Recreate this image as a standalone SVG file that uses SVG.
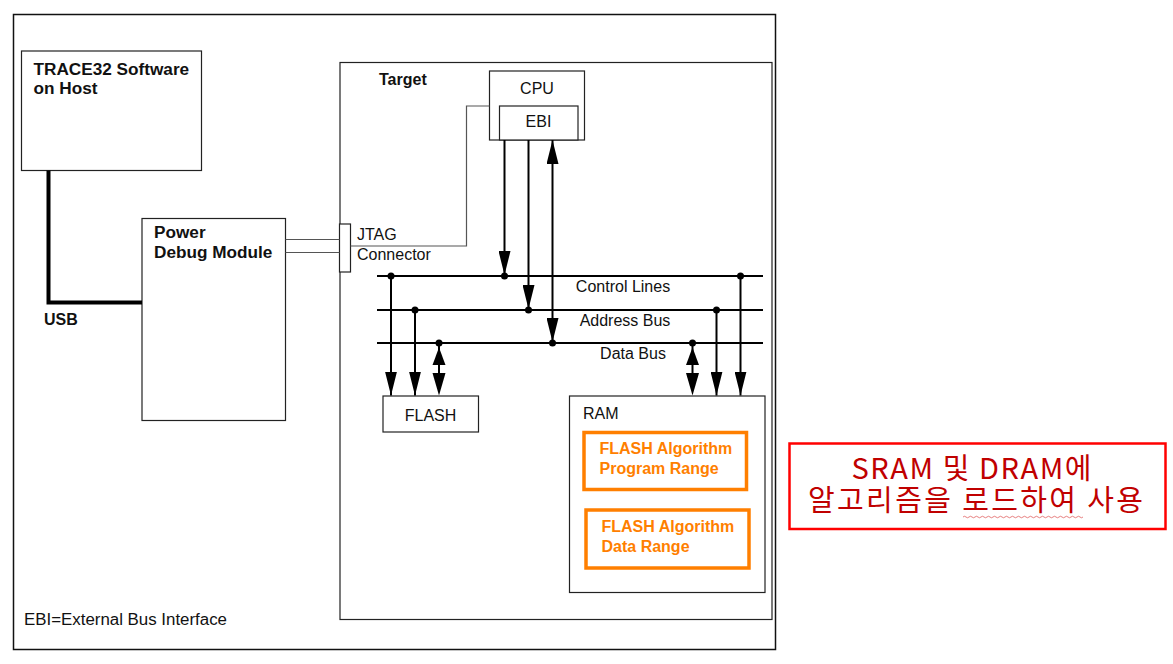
<svg xmlns="http://www.w3.org/2000/svg" width="1173" height="664" viewBox="0 0 1173 664">
<style>
.box{fill:#fff;stroke:#222;stroke-width:1.2}
.thin{fill:none;stroke:#555;stroke-width:1.2}
.bus{fill:none;stroke:#000;stroke-width:2}
.arr{fill:none;stroke:#000;stroke-width:2}
.head{fill:#000}
.t{font-family:"Liberation Sans",Arial,sans-serif;font-size:16px;fill:#111}
.b{font-weight:bold}
.bl{font-size:17.2px}
.or{fill:#fff;stroke:#FF7F00;stroke-width:3.5}
.ot{font-family:"Liberation Sans",Arial,sans-serif;font-size:16px;font-weight:bold;fill:#FF7F00}
.kr{font-family:"Noto Sans CJK KR",sans-serif;font-size:29px;fill:#C00000}
.dot{fill:#000}
</style>
<defs>
<marker id="ah" viewBox="0 0 24 12" refX="24" refY="6" markerWidth="24" markerHeight="12" markerUnits="userSpaceOnUse" orient="auto-start-reverse">
<path d="M0,0 L24,6 L0,12 z" fill="#000"/>
</marker>
</defs>
<rect x="0" y="0" width="1173" height="664" fill="#fff"/>
<rect id="frame" x="13.5" y="14.5" width="762" height="635" fill="none" stroke="#111" stroke-width="1.5"/>
<text class="t" x="24" y="625" textLength="203" lengthAdjust="spacingAndGlyphs">EBI=External Bus Interface</text>

<g id="host">
<rect class="box" x="21.5" y="51" width="180" height="119.5"/>
<text class="t b bl" x="33.5" y="75">TRACE32 Software</text>
<text class="t b bl" x="33.5" y="94">on Host</text>
</g>

<g id="pdm">
<rect class="box" x="142" y="218.5" width="143.5" height="202"/>
<text class="t b bl" x="154" y="237.5">Power</text>
<text class="t b bl" x="154" y="258">Debug Module</text>
</g>

<g id="target">
<rect class="box" x="340" y="62.5" width="432" height="557"/>
<text class="t b" x="379" y="85">Target</text>
</g>

<g id="jtag">
<rect class="box" x="339.5" y="224" width="11" height="48"/>
<text class="t" x="357" y="239.5">JTAG</text>
<text class="t" x="357" y="260">Connector</text>
</g>

<g id="cpu">
<rect class="box" x="489.5" y="71" width="95" height="69"/>
<text class="t" x="537" y="93.5" text-anchor="middle">CPU</text>
<rect class="box" x="499.5" y="106" width="78.5" height="34"/>
<text class="t" x="538.5" y="127" text-anchor="middle">EBI</text>
</g>

<g id="flash">
<rect class="box" x="383" y="396" width="95.5" height="36"/>
<text class="t" x="430.5" y="421" text-anchor="middle">FLASH</text>
</g>

<g id="ram">
<rect class="box" x="569.5" y="396" width="195.5" height="196.5"/>
<text class="t" x="583" y="419">RAM</text>
<rect class="or" x="584" y="432.5" width="162.5" height="57"/>
<text class="ot" x="599.5" y="454">FLASH Algorithm</text>
<text class="ot" x="599.5" y="474">Program Range</text>
<rect class="or" x="586" y="510" width="163" height="58"/>
<text class="ot" x="601.5" y="532">FLASH Algorithm</text>
<text class="ot" x="601.5" y="552">Data Range</text>
</g>

<g id="note">
<rect x="789.5" y="443.5" width="376" height="85.5" fill="#fff" stroke="#FF0000" stroke-width="2.5"/>
<text class="kr"><tspan x="971.5" y="479" text-anchor="middle" textLength="240" lengthAdjust="spacing">SRAM 및 DRAM에</tspan><tspan x="808" y="511" textLength="335" lengthAdjust="spacing">알고리즘을 로드하여 사용</tspan></text>
<path d="M963,517 q1.5,-1.5 3,0 t3,0 t3,0 t3,0 t3,0 t3,0 t3,0 t3,0 t3,0 t3,0 t3,0 t3,0 t3,0 t3,0 t3,0 t3,0 t3,0 t3,0 t3,0 t3,0 t3,0 t3,0 t3,0 t3,0 t3,0 t3,0 t3,0 t3,0 t3,0 t3,0 t3,0 t3,0 t3,0 t3,0 t3,0 t3,0 t3,0 t3,0 t3,0 t3,0" fill="none" stroke="#E06060" stroke-width="0.8"/>
</g>

<g id="connectors">
<polyline points="48.5,170.5 48.5,302.5 142,302.5" fill="none" stroke="#000" stroke-width="4"/>
<text class="t b" x="44" y="325">USB</text>
<line class="thin" x1="285.5" y1="239.5" x2="339.5" y2="239.5"/>
<line class="thin" x1="285.5" y1="252.5" x2="339.5" y2="252.5"/>
<polyline class="thin" points="350.5,246 466.5,246 466.5,106 489.5,106"/>

<line class="bus" x1="377" y1="276" x2="763" y2="276"/>
<line class="bus" x1="377" y1="310" x2="763" y2="310"/>
<line class="bus" x1="377" y1="343" x2="763" y2="343"/>
<text class="t" x="623" y="292" text-anchor="middle">Control Lines</text>
<text class="t" x="625" y="326" text-anchor="middle">Address Bus</text>
<text class="t" x="633" y="359" text-anchor="middle">Data Bus</text>

<line class="arr" x1="504.5" y1="140" x2="504.5" y2="275" marker-end="url(#ah)"/>
<line class="arr" x1="528.5" y1="140" x2="528.5" y2="309" marker-end="url(#ah)"/>
<line class="arr" x1="552.5" y1="140" x2="552.5" y2="342" marker-start="url(#ah)" marker-end="url(#ah)"/>

<line class="arr" x1="391" y1="276" x2="391" y2="395.5" marker-end="url(#ah)"/>
<line class="arr" x1="415" y1="310" x2="415" y2="395.5" marker-end="url(#ah)"/>
<line class="arr" x1="439" y1="343" x2="439" y2="390"/>
<polygon class="head" points="439,347.5 432.5,365 445.5,365"/>
<polygon class="head" points="432.5,373 445.5,373 439,395.5"/>

<line class="arr" x1="692.5" y1="343" x2="692.5" y2="390"/>
<polygon class="head" points="692.5,347.5 686,365 699,365"/>
<polygon class="head" points="686,373 699,373 692.5,395.5"/>
<line class="arr" x1="716.5" y1="310" x2="716.5" y2="395.5" marker-end="url(#ah)"/>
<line class="arr" x1="740.5" y1="276" x2="740.5" y2="395.5" marker-end="url(#ah)"/>

<circle class="dot" cx="391" cy="276" r="3.5"/>
<circle class="dot" cx="504.5" cy="276" r="3.5"/>
<circle class="dot" cx="740.5" cy="276" r="3.5"/>
<circle class="dot" cx="415" cy="310" r="3.5"/>
<circle class="dot" cx="528.5" cy="310" r="3.5"/>
<circle class="dot" cx="716.5" cy="310" r="3.5"/>
<circle class="dot" cx="439" cy="343" r="3.5"/>
<circle class="dot" cx="552.5" cy="343" r="3.5"/>
<circle class="dot" cx="692.5" cy="343" r="3.5"/>
</g>
</svg>
